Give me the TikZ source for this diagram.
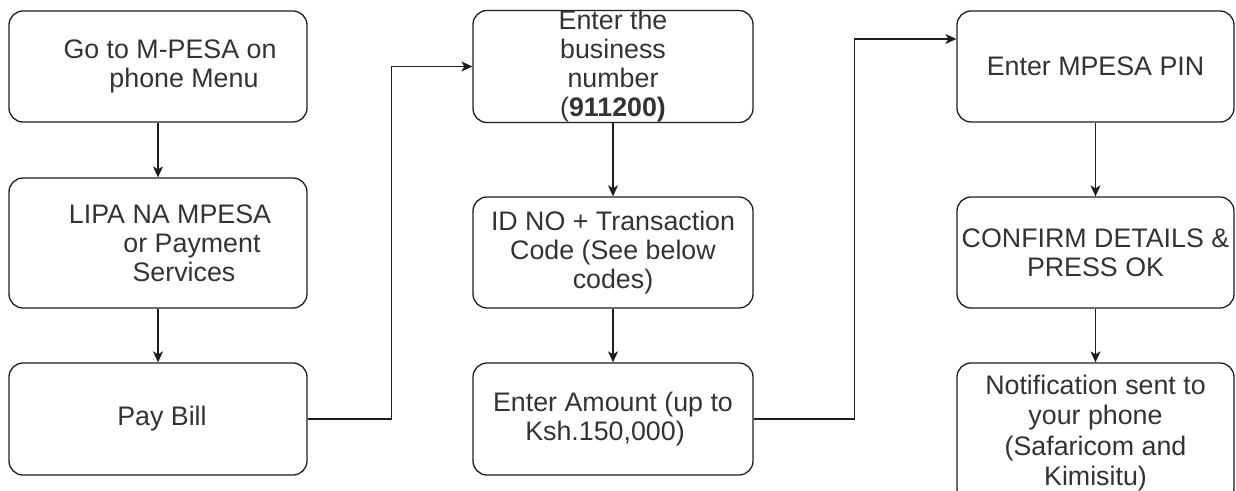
\documentclass[tikz,border=0pt]{standalone}
\usepackage{fontspec}
\setmainfont{Liberation Sans}
\usetikzlibrary{arrows.meta}
\definecolor{ln}{HTML}{1E1E1E}
\definecolor{tx}{HTML}{333333}
\begin{document}
\begin{tikzpicture}[x=1pt,y=-1pt,
  box/.style={draw=ln, line width=1.3pt, rounded corners=14pt, align=center,
    text=tx, inner sep=0pt, font=\fontsize{26.8}{29}\selectfont},
  colA/.style={box, minimum width=298pt},
  colB/.style={box, minimum width=280pt},
  colC/.style={box, minimum width=277pt},
  arr/.style={draw=ln, line width=1.3pt, -{Stealth[length=11pt,width=10pt,inset=3pt]}}]
\useasboundingbox (0,0) rectangle (1236,490);
% column 1
\node[colA, minimum height=111pt] (menu) at (158,66.5)
  {\hspace*{24pt}Go to M-PESA on\\\hspace*{52pt}phone Menu};
\node[colA, minimum height=130pt] (lipa) at (158,243)
  {\hspace*{24pt}LIPA NA MPESA\\\hspace*{68pt}or Payment\\\hspace*{52pt}Services};
\node[colA, minimum height=112pt] (pay) at (158,419)
  {\hspace*{8pt}Pay Bill};
% column 2
\node[colB, minimum height=111pt] (ebn) at (613,66.5)
  {Enter the\\business\\number\\(\textbf{911200)}};
\node[colB, minimum height=111pt] (idno) at (613,252.5)
  {ID NO + Transaction\\Code (See below\\codes)};
\node[colB, minimum height=112pt] (amt) at (613,419)
  {Enter Amount (up to\\\hspace*{-16pt}Ksh.150,000)};
% column 3
\node[colC, minimum height=111pt] (pin) at (1095.5,66.5)
  {Enter MPESA PIN};
\node[colC, minimum height=111pt] (conf) at (1095.5,252.5)
  {CONFIRM DETAILS \&\\PRESS OK};
\node[colC, minimum height=140pt, font=\fontsize{26.8}{30.5}\selectfont] (note) at (1095.5,433)
  {Notification sent to\\your phone\\(Safaricom and\\Kimisitu)};
% connectors
\draw[arr] (menu.south) -- (lipa.north);
\draw[arr] (lipa.south) -- (pay.north);
\draw[arr] (pay.east) -- ([xshift=84pt]pay.east) |- (ebn.west);
\draw[arr] (ebn.south) -- (idno.north);
\draw[arr] (idno.south) -- (amt.north);
\draw[arr] (amt.east) -- ([xshift=101pt]amt.east) |- ([yshift=27.5pt]pin.west);
\draw[arr] (pin.south) -- (conf.north);
\draw[arr] (conf.south) -- (note.north);
\end{tikzpicture}
\end{document}
